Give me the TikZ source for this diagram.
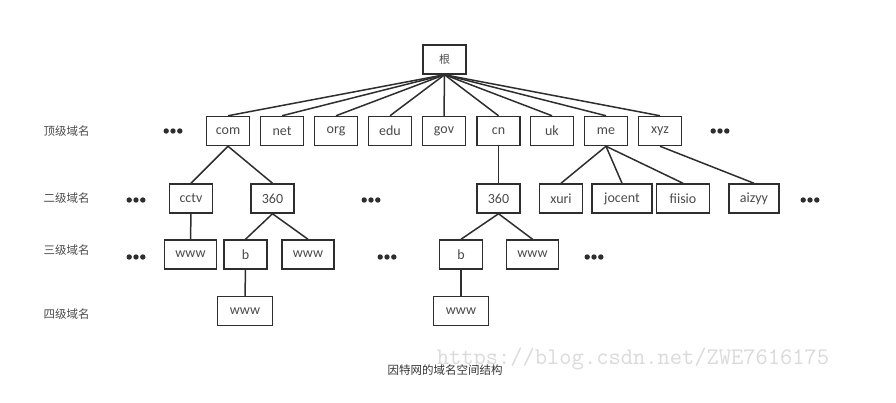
\documentclass[tikz,border=0pt]{standalone}
\usepackage{fontspec}
\setmainfont{Carlito}
\newfontfamily\cjk{Noto Sans CJK SC}
\definecolor{linec}{HTML}{2E2E2E}
\definecolor{textc}{HTML}{4A4A4A}
\definecolor{markc}{HTML}{DADADA}
\begin{document}
\begin{tikzpicture}[x=1pt,y=-1pt,
  box/.style={draw=linec, line width=1.5pt, minimum height=29pt, minimum width=43pt,
    inner sep=0pt, font=\fontsize{14}{16}\selectfont, text=textc},
  edge/.style={draw=linec, line width=1.5pt},
  lvl/.style={font=\cjk\fontsize{11.5}{13}\selectfont, text=textc},
  dotfill/.style={fill=linec},
]
\useasboundingbox (0,0) rectangle (896,402);
% root
\node[box, font=\cjk\fontsize{11}{13}\selectfont] (root) at (444.5,59.5) {根};
% top level
\node[box] (com) at (228,131) {com};
\node[box] (net) at (282,131) {net};
\node[box] (org) at (336,131) {org};
\node[box] (edu) at (390,131) {edu};
\node[box] (gov) at (444,131) {gov};
\node[box] (cn)  at (498.5,131) {cn};
\node[box] (uk)  at (552,131) {uk};
\node[box] (me)  at (606,131) {me};
\node[box] (xyz) at (660,131) {xyz};
% second level
\node[box] (cctv) at (191,198.5) {cctv};
\node[box] (s360a) at (272.5,198.5) {360};
\node[box] (s360b) at (498.5,198.5) {360};
\node[box] (xuri) at (561,198.5) {xuri};
\node[box, minimum width=60pt] (jocent) at (622,198.5) {jocent};
\node[box, minimum width=53pt] (fiisio) at (683,198.5) {fiisio};
\node[box, minimum width=50pt] (aizyy) at (754,198.5) {aizyy};
% third level
\node[box, minimum width=52pt] (wwwa) at (190.5,254.5) {www};
\node[box] (ba) at (245.5,254.5) {b};
\node[box, minimum width=52pt] (wwwb) at (308,254.5) {www};
\node[box] (bb) at (461,254.5) {b};
\node[box, minimum width=52pt] (wwwc) at (532.5,254.5) {www};
% fourth level
\node[box, minimum width=55pt] (wwwd) at (245,311) {www};
\node[box, minimum width=55pt] (wwwe) at (461,311) {www};
% level labels
\node[lvl] (l1) at (66.5,131) {顶级域名};
\node[lvl] (l2) at (66.5,198.5) {二级域名};
\node[lvl] (l3) at (66.5,250.5) {三级域名};
\node[lvl] (l4) at (66.5,314) {四级域名};
% edges
\foreach \c in {com,net,org,edu,gov,cn,uk,me,xyz}
  \draw[edge] (root.south) -- (\c.north);
\draw[edge] (com.south) -- (cctv.north);
\draw[edge] (com.south) -- (s360a.north);
\draw[edge] (cn.south) -- (s360b.north);
\draw[edge] (me.south) -- (xuri.north);
\draw[edge] (me.south) -- (jocent.north);
\draw[edge] (me.south) -- (fiisio.north);
\draw[edge] (xyz.south) -- (aizyy.north);
\draw[edge] (cctv.south) -- (wwwa.north);
\draw[edge] (s360a.south) -- (ba.north);
\draw[edge] (s360a.south) -- (wwwb.north);
\draw[edge] (s360b.south) -- (bb.north);
\draw[edge] (s360b.south) -- (wwwc.north);
\draw[edge] (ba.south) -- (wwwd.north);
\draw[edge] (bb.south) -- (wwwe.north);
% ellipsis dots
\foreach \x/\y in {173/131, 720/131, 136/200, 371/200, 810/200, 136/257, 387/257, 594/257}
  \foreach \d in {-6.8,0,6.8}
    \fill[dotfill] (\x+\d,\y) circle[radius=2.7];
% watermark and caption
\node[text=markc, font=\ttfamily\fontsize{23.8}{26}\selectfont] (wm) at (633,359) {https://blog.csdn.net/ZWE7616175};
\node[font=\cjk\fontsize{11.5}{13}\selectfont, text=black!80] (cap) at (445,370) {因特网的域名空间结构};
\end{tikzpicture}
\end{document}
